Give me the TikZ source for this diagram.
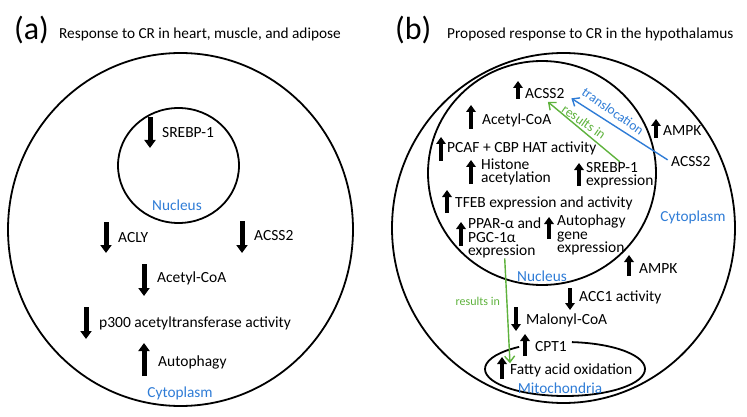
\documentclass[tikz,border=0pt]{standalone}
\usepackage{fontspec}
\setmainfont{Carlito}
\usepackage{tikz}
\usetikzlibrary{arrows.meta,calc}
\definecolor{cellblue}{RGB}{47,124,214}
\definecolor{cellgreen}{RGB}{94,178,60}

\begin{document}
\begin{tikzpicture}[x=1pt,y=-1pt,
  cell/.style={line width=1.8pt},
  lbl/.style={anchor=west,inner sep=0pt,align=left,font=\fontsize{15.5}{13.5}\selectfont},
  head/.style={anchor=west,inner sep=0pt,font=\fontsize{15.3}{16}\selectfont},
  tag/.style={anchor=west,inner sep=0pt,font=\fontsize{32}{32}\selectfont},
  place/.style={text=cellblue,inner sep=0pt,font=\fontsize{15.3}{15}\selectfont},
  big/.style={line width=5pt,-{Triangle[width=11pt,length=8pt]}},
  small/.style={line width=4.2pt,-{Triangle[width=9.5pt,length=7pt]}},
  link/.style={line width=1.4pt,-{Straight Barb[length=6pt,width=10pt]}},
  tilt/.style={inner sep=0pt,rotate=-35,font=\fontsize{13.5}{13}\selectfont}]
\useasboundingbox (0,0) rectangle (747,417);

% (a) heart, muscle, adipose
\node[tag] (labA) at (14,30) {(a)};
\node[head] (titleA) at (59,34) {Response to CR in heart, muscle, and adipose};
\draw[cell] (180.5,229.5) ellipse[x radius=172.5pt,y radius=176.5pt];
\draw[cell] (178.5,165.5) ellipse[x radius=60.5pt,y radius=57.5pt];

\node[lbl] (srebpA) at (162,133) {SREBP-1};
\node[place] (nucA) at (177,205) {Nucleus};
\node[lbl] (aclyA) at (118,238) {ACLY};
\node[lbl] (acssA) at (254,236) {ACSS2};
\node[lbl] (acoaA) at (157,278) {Acetyl-CoA};
\node[lbl] (pthreeA) at (99,323) {p300 acetyltransferase activity};
\node[lbl] (autoA) at (158,362) {Autophagy};
\node[place] (cytA) at (180,393) {Cytoplasm};

\draw[big] (150,117) -- (150,148);
\draw[big] (106,222) -- (106,253);
\draw[big] (242,221) -- (242,253);
\draw[big] (144,264) -- (144,296);
\draw[big] (86,307) -- (86,339);
\draw[big] (144,376) -- (144,343);

% (b) hypothalamus
\node[tag] (labB) at (395,30) {(b)};
\node[head] (titleB) at (447,34) {Proposed response to CR in the hypothalamus};
\draw[cell] (563.5,228) ellipse[x radius=171.5pt,y radius=175pt];
\draw[cell] (542,173) ellipse[x radius=114pt,y radius=112pt];
\draw[cell] (565,369) ++(85:80pt and 27pt) arc[start angle=85,end angle=-235,x radius=80pt,y radius=27pt];

\node[lbl] (acssIn) at (525,94) {ACSS2};
\node[lbl] (acoaB) at (482,120) {Acetyl-CoA};
\node[lbl] (pcaf) at (447,148) {PCAF + CBP HAT activity};
\node[lbl] (histone) at (481,172) {Histone\\acetylation};
\node[lbl] (srebpB) at (586,175) {SREBP-1\\expression};
\node[lbl] (tfeb) at (455,203) {TFEB expression and activity};
\node[lbl] (ppar) at (468,238) {PPAR-α and\\PGC-1α\\expression};
\node[lbl] (autoB) at (557,235) {Autophagy\\gene\\expression};
\node[place] (nucB) at (542,276) {Nucleus};
\node[place] (cytB) at (693,217) {Cytoplasm};
\node[lbl] (ampkUp) at (663,131) {AMPK};
\node[lbl] (acssOut) at (671,162) {ACSS2};
\node[lbl] (ampkLo) at (639,269) {AMPK};
\node[lbl] (acc) at (579,297) {ACC1 activity};
\node[lbl] (malonyl) at (526,320) {Malonyl-CoA};
\node[lbl] (cpt) at (535,347) {CPT1};
\node[lbl] (fao) at (510,370) {Fatty acid oxidation};
\node[place] (mito) at (560,388) {Mitochondria};

\draw[small] (518,99) -- (518,81);
\draw[small] (471,129) -- (471,105);
\draw[small] (441,161) -- (441,137);
\draw[small] (471,184) -- (471,160);
\draw[small] (579,186) -- (579,163);
\draw[small] (447,213) -- (447,190);
\draw[small] (461,246) -- (461,222);
\draw[small] (549,239) -- (549,217);
\draw[small] (656,138) -- (656,119);
\draw[small] (629,276) -- (629,255);
\draw[small] (570,288) -- (570,310);
\draw[small] (516,307) -- (516,331);
\draw[small] (525,356) -- (525,334);
\draw[small] (502,379) -- (502,357);

\draw[link,cellblue,shorten <=4pt,shorten >=8pt] (acssOut.west) -- (acssIn.east);
\node[tilt,text=cellblue] (transl) at (613,111) {translocation};
\draw[link,cellgreen,shorten >=4pt] (srebpB.north) -- (acssIn.south);
\node[tilt,text=cellgreen] (resUp) at (584,122) {results in};
\draw[link,cellgreen] (ppar.south) -- (fao.north west)
  node[pos=0.41,left=3pt,font=\fontsize{12}{12}\selectfont] (resLo) {results in};
\end{tikzpicture}
\end{document}
